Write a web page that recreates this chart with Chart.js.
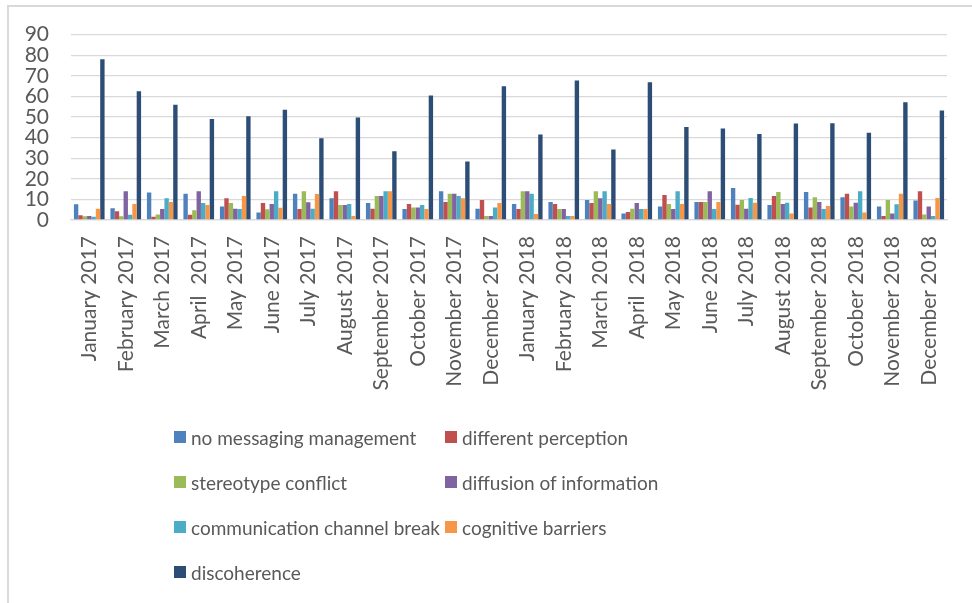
<!DOCTYPE html>
<html>
<head>
<meta charset="utf-8">
<script src="https://cdn.jsdelivr.net/npm/chart.js@4.4.0/dist/chart.umd.min.js"></script>
<style>
  html, body { margin: 0; padding: 0; background: #fff; }
  #wrap { position: relative; width: 972px; height: 603px; overflow: hidden; }
  #frame { position: absolute; left: 7px; top: 5px; right: 0; bottom: 0;
           border-left: 2px solid #d9d9d9; border-top: 2px solid #d9d9d9; }
  #legend { position: absolute; left: 174px; top: 425px;
            display: grid; grid-template-columns: 271px auto; row-gap: 21px;
            font-family: Lato, "Open Sans", sans-serif; font-size: 19px; color: #595959; }
  .item { display: flex; align-items: center; height: 24px; white-space: nowrap; }
  .box { width: 12px; height: 12px; margin-right: 5px; flex: none; }
</style>
</head>
<body>
<div id="wrap">
  <div id="frame"></div>
  <canvas id="chart" width="972" height="603"></canvas>
  <div id="legend"></div>
</div>
<script>
// Data
const months = [
  'January 2017', 'February 2017', 'March 2017', 'April  2017', 'May 2017', 'June 2017',
  'July 2017', 'August 2017', 'September 2017', 'October 2017', 'November 2017', 'December 2017',
  'January 2018', 'February 2018', 'March 2018', 'April  2018', 'May 2018', 'June 2018',
  'July 2018', 'August 2018', 'September 2018', 'October 2018', 'November 2018', 'December 2018'
];
const noMessaging = [7.6, 5.7, 13.4, 12.8, 6.6, 3.7, 12.8, 10.5, 8.2, 5.3, 13.9, 5.5,
                     7.8, 8.7, 9.7, 3.2, 6.5, 8.7, 15.5, 7.3, 13.6, 11.1, 6.6, 9.5];
const differentPerception = [2.3, 4.2, 1.6, 2.6, 10.5, 8.2, 5.3, 13.9, 5.5, 7.8, 8.7, 9.7,
                             5.3, 7.8, 8.2, 3.9, 12.1, 8.7, 7.4, 11.6, 6.1, 12.8, 1.9, 14];
const stereotypeConflict = [1.8, 1.8, 2.7, 4.7, 8.2, 5.2, 13.9, 7.3, 11.6, 6.1, 12.8, 1.9,
                            14, 5.3, 13.9, 5.5, 7.8, 8.7, 9.7, 13.6, 11.1, 6.6, 9.7, 2.7];
const diffusionInfo = [1.9, 14, 5.3, 13.9, 5.5, 7.8, 8.6, 7.3, 11.6, 6.1, 12.8, 1.9,
                       14, 5.3, 10.5, 8.2, 5.3, 13.9, 5.5, 7.8, 8.7, 8.4, 3.2, 6.6];
const channelBreak = [1.6, 2.6, 10.5, 8.2, 5.3, 13.9, 5.5, 7.8, 13.9, 7.3, 11.6, 6.1,
                      12.8, 1.9, 14, 5.3, 14, 5.3, 10.7, 8.4, 5.3, 14, 7.6, 1.9];
const cognitiveBarriers = [5.5, 7.8, 8.7, 7.3, 11.6, 6.0, 12.6, 1.9, 13.9, 5.3, 10.5, 8.2,
                           2.9, 1.9, 7.8, 5.3, 7.8, 8.7, 8.4, 3.2, 6.8, 3.7, 12.8, 10.7];
const discoherence = [78, 62.5, 56, 49, 50.4, 53.5, 39.7, 49.8, 33.4, 60.4, 28.4, 64.9,
                      41.5, 67.7, 34.2, 66.9, 45.2, 44.4, 41.7, 46.8, 47, 42.3, 57.2, 53.1];
const yTicks = [0, 10, 20, 30, 40, 50, 60, 70, 80, 90];

const seriesNames = ['no messaging management', 'different perception', 'stereotype conflict',
  'diffusion of information', 'communication channel break', 'cognitive barriers', 'discoherence'];
const seriesValues = [noMessaging, differentPerception, stereotypeConflict, diffusionInfo,
  channelBreak, cognitiveBarriers, discoherence];
const seriesColors = ['#4f81bd', '#c0504d', '#9bbb59', '#8064a2', '#4bacc6', '#f79646', '#2c4d75'];

const textColor = '#595959';
const gridColor = '#d9d9d9';
const fontFamily = 'Lato, "Open Sans", sans-serif';

const ctx = document.getElementById('chart').getContext('2d');
const chart = new Chart(ctx, {
    type: 'bar',
    data: {
        labels: months,
        datasets: seriesNames.map((name, i) => ({
            label: name,
            data: seriesValues[i],
            backgroundColor: seriesColors[i],
            borderWidth: 0,
            barPercentage: 1,
            categoryPercentage: 0.84
        }))
    },
    options: {
        responsive: false,
        animation: false,
        layout: { padding: { left: 0, top: 34, right: 25, bottom: 200 } },
        plugins: {
            legend: { display: false },
            tooltip: { enabled: false }
        },
        scales: {
            x: {
                grid: { display: false, drawTicks: false },
                border: { display: true, color: gridColor, width: 1.3 },
                ticks: {
                    autoSkip: false,
                    maxRotation: 90,
                    minRotation: 90,
                    padding: 16,
                    color: textColor,
                    font: { family: fontFamily, size: 21 }
                },
                afterFit(scale) { scale.height = 183; }
            },
            y: {
                min: 0,
                max: 90,
                afterBuildTicks(scale) { scale.ticks = yTicks.map(v => ({ value: v })); },
                grid: { color: gridColor, lineWidth: 1.3, drawTicks: false },
                border: { display: false },
                ticks: {
                    autoSkip: false,
                    padding: 22,
                    color: textColor,
                    font: { family: fontFamily, size: 21 }
                },
                afterFit(scale) { scale.width = 71; }
            }
        }
    }
});

// Two-column legend like the original
const legend = document.getElementById('legend');
chart.data.datasets.forEach(ds => {
    const item = document.createElement('div');
    item.className = 'item';
    const box = document.createElement('span');
    box.className = 'box';
    box.style.background = ds.backgroundColor;
    const txt = document.createElement('span');
    txt.textContent = ds.label;
    item.appendChild(box);
    item.appendChild(txt);
    legend.appendChild(item);
});
</script>
</body>
</html>
